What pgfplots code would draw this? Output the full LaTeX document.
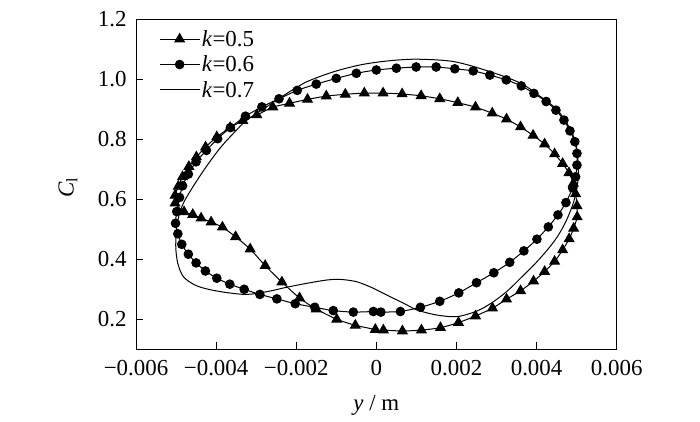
\documentclass[border=0pt]{standalone}
\usepackage{pgfplots}
\pgfplotsset{compat=1.18}
\usepackage{fontspec}
\setmainfont{Liberation Serif}
\begin{document}
\begin{tikzpicture}[x=1bp,y=1bp]
\begin{axis}[
  at={(0,0)}, anchor=south west,
  scale only axis, width=480.7bp, height=330bp,
  xmin=-0.006, xmax=0.006, ymin=0.1, ymax=1.2,
  xtick={-0.006,-0.004,-0.002,0,0.002,0.004,0.006},
  xticklabels={−0.006,−0.004,−0.002,0,0.002,0.004,0.006},
  ytick={0.2,0.4,0.6,0.8,1.0,1.2},
  yticklabels={0.2,0.4,0.6,0.8,1.0,1.2},
  scaled ticks=false,
  tick pos=left, tick align=inside,
  major tick length=7bp,
  axis line style={line width=0.8bp},
  tick style={line width=0.8bp, black},
  ticklabel style={font=\fontsize{23}{27}\selectfont},
  xticklabel style={yshift=-8bp},
  yticklabel style={xshift=-6bp},
  xlabel={\textit{y} / m},
  ylabel={\textit{C}\textsubscript{l}},
  label style={font=\fontsize{23}{27}\selectfont},
  xlabel style={at={(axis description cs:0.5,-0.172)}, anchor=center},
  ylabel style={at={(axis description cs:-0.1415,0.49)}, anchor=center},
  legend style={draw=none, fill=none, at={(0.046,0.975)}, anchor=north west,
    font=\fontsize{23}{27}\selectfont, row sep=4bp, inner sep=1bp,
    nodes={inner sep=2bp}},
  legend cell align=left,
  legend image code/.code={\draw[mark repeat=2,mark phase=2] plot coordinates {(0cm,0cm) (0.7cm,0cm) (1.4cm,0cm)};},
]
\addplot[black, line width=1bp, smooth, tension=0.4, mark=triangle*, mark size=5.5bp, mark options={solid}] coordinates {
(0.000175,0.163) (0.00065,0.160) (0.001125,0.163) (0.0016,0.171) (0.00205,0.188)
(0.002475,0.210) (0.0029,0.236) (0.00325,0.266) (0.0036,0.294) (0.003925,0.326)
(0.0042,0.358) (0.00445,0.392) (0.00465,0.430) (0.004813,0.467) (0.004925,0.502)
(0.005013,0.540) (0.005008,0.577) (0.004975,0.617) (0.004918,0.652) (0.004808,0.687)
(0.00465,0.718) (0.00445,0.750) (0.0042,0.783) (0.003913,0.812) (0.0036,0.840)
(0.00325,0.866) (0.002893,0.886) (0.002475,0.906) (0.002033,0.921) (0.001583,0.934)
(0.001118,0.944) (0.000643,0.950) (0.000168,0.953) (-0.0003,0.953) (-0.000775,0.949)
(-0.00125,0.943) (-0.001718,0.932) (-0.002168,0.919) (-0.002583,0.906) (-0.002983,0.880)
(-0.003333,0.861) (-0.00365,0.838) (-0.003983,0.807) (-0.004263,0.773) (-0.004493,0.740)
(-0.00468,0.708) (-0.004838,0.674) (-0.004945,0.642) (-0.005025,0.612) (-0.005025,0.586)
(-0.0048,0.557) (-0.004583,0.548) (-0.004375,0.536) (-0.004125,0.523) (-0.003843,0.506)
(-0.003513,0.474) (-0.00315,0.433) (-0.002775,0.378) (-0.002358,0.323) (-0.001918,0.270)
(-0.0015,0.233) (-0.000988,0.199) (-0.000525,0.179) (-0.000025,0.165)
};
\addlegendentry{\textit{k}=0.5}
\addplot[black, line width=1bp, smooth, tension=0.4, mark=*, mark size=4.3bp, mark options={solid}] coordinates {
(0.000113,0.223) (0.0006,0.225) (0.0011,0.239) (0.001583,0.259) (0.002058,0.287)
(0.0025,0.321) (0.002933,0.354) (0.00333,0.389) (0.003683,0.427) (0.004008,0.466)
(0.004293,0.507) (0.004533,0.547) (0.004733,0.588) (0.0049,0.637) (0.004975,0.674)
(0.005008,0.713) (0.005008,0.752) (0.004955,0.791) (0.004833,0.827) (0.004683,0.863)
(0.004483,0.896) (0.004238,0.925) (0.003933,0.952) (0.003618,0.977) (0.003243,0.997)
(0.002833,1.013) (0.002418,1.027) (0.001958,1.034) (0.001493,1.040) (0.000993,1.040)
(0.0005,1.036) (0.0,1.030) (-0.0005,1.019) (-0.001,1.002) (-0.0015,0.983)
(-0.001975,0.962) (-0.00243,0.934) (-0.002858,0.907) (-0.003268,0.876) (-0.003643,0.838)
(-0.003963,0.801) (-0.004243,0.762) (-0.0045,0.724) (-0.004693,0.683) (-0.004838,0.644)
(-0.004913,0.605) (-0.004983,0.558) (-0.005013,0.519) (-0.004955,0.484) (-0.004858,0.449)
(-0.004693,0.416) (-0.0045,0.387) (-0.004268,0.360) (-0.003983,0.336) (-0.003658,0.316)
(-0.0033,0.299) (-0.002908,0.282) (-0.002483,0.267) (-0.002025,0.251) (-0.001538,0.239)
(-0.001075,0.228) (-0.000575,0.223) (-0.000075,0.225)
};
\addlegendentry{\textit{k}=0.6}
\addplot[black, line width=1bp, smooth, tension=0.5] coordinates {
(-0.0000675,0.302) (0.00035,0.274) (0.000675,0.253) (0.0010175,0.230) (0.0015175,0.213)
(0.0020175,0.208) (0.0025175,0.227) (0.0028925,0.255) (0.0032675,0.293) (0.0036,0.336)
(0.0039325,0.380) (0.0042675,0.430) (0.0045175,0.474) (0.004725,0.523) (0.0048925,0.577)
(0.0049875,0.623) (0.0050375,0.670) (0.0050375,0.723) (0.005,0.770) (0.004925,0.807)
(0.0048075,0.841) (0.0045175,0.897) (0.0041,0.941) (0.0036,0.986) (0.00285,1.024)
(0.0019325,1.058) (0.0009925,1.066) (0.0002675,1.060) (-0.0004,1.047) (-0.0010675,1.024)
(-0.0017325,0.991) (-0.0022325,0.952) (-0.0027325,0.908) (-0.0032325,0.863) (-0.0035675,0.819)
(-0.0039,0.770) (-0.00425,0.707) (-0.004525,0.652) (-0.004775,0.597) (-0.0049,0.558)
(-0.0049825,0.508) (-0.0050075,0.441) (-0.0049575,0.386) (-0.0048175,0.341) (-0.004525,0.313)
(-0.0041925,0.299) (-0.0037325,0.288) (-0.0032325,0.282) (-0.0027325,0.291) (-0.0022325,0.306)
(-0.0017325,0.319) (-0.0012325,0.330) (-0.0009,0.332) (-0.0004825,0.324) (-0.0000675,0.302)
};
\addlegendentry{\textit{k}=0.7}
\end{axis}
\path (-136bp,-73bp) rectangle (564bp,349bp);
\end{tikzpicture}
\end{document}
